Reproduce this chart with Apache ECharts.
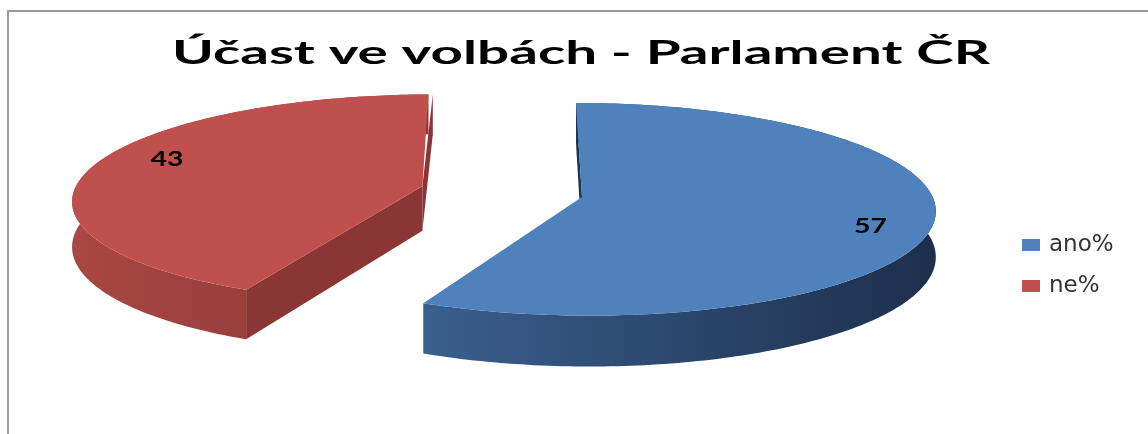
<!DOCTYPE html>
<html>
<head>
<meta charset="utf-8">
<script src="https://cdn.jsdelivr.net/npm/echarts@6/dist/echarts.min.js"></script>
<style>
  html, body { margin: 0; padding: 0; background: #fff; }
  #pieChart { width: 1148px; height: 434px; }
</style>
</head>
<body>
<div id="pieChart"></div>
<script>
// data
const categories = ["ano%", "ne%"];
const values = [57, 43];
const chartTitle = "Účast ve volbách - Parlament ČR";

// look
const topColors = ["#4F81BD", "#C0504D"];
const wallColors = [["#3A5F8D", "#1D2F4C"], ["#A84744", "#8A3634"]];
const cutColors = ["#1F3454", "#8B3634"];
const explode = [0, 0.47];

// fake 3d projection (excel style tilted pie)
const CX = 582, CY = 197, RX = 350.6, RY = 104.9, PERSP = 0.1156, DEPTH = 45, SKEW = -6.7;
const total = values.reduce((a, b) => a + b, 0);
const rad = (d) => (d * Math.PI) / 180;

function project(X, Y, down) {
  const f = 1 / (1 + PERSP * Y);
  return [CX + (RX * X + SKEW * Y) * f, CY - RY * Y * f + down * DEPTH * f];
}

function measure(text, font) {
  const ctx = document.createElement("canvas").getContext("2d");
  ctx.font = font;
  return ctx.measureText(text).width;
}

function sliceAngles(i) {
  let before = 0;
  for (let k = 0; k < i; k++) before += values[k];
  return [(before / total) * 360, ((before + values[i]) / total) * 360];
}

function renderSlice(i) {
  const [a0, a1] = sliceAngles(i);
  const mid = rad((a0 + a1) / 2);
  const ox = explode[i] * Math.sin(mid), oy = explode[i] * Math.cos(mid);
  const rim = (deg, down) => project(ox + Math.sin(rad(deg)), oy + Math.cos(rad(deg)), down);
  const children = [];

  // outer wall
  const topArc = [], botArc = [];
  for (let d = a0; d <= a1 + 0.001; d += 1) {
    const dd = Math.min(d, a1);
    topArc.push(rim(dd, 0));
    botArc.push(rim(dd, 1));
  }
  const xs = topArc.map((p) => p[0]);
  const minX = Math.min.apply(null, xs), maxX = Math.max.apply(null, xs);
  children.push({
    type: "polygon",
    shape: { points: topArc.concat(botArc.slice().reverse()) },
    style: {
      fill: new echarts.graphic.LinearGradient(minX, 0, maxX, 0, [
        { offset: 0, color: wallColors[i][0] },
        { offset: 1, color: wallColors[i][1] },
      ], true),
    },
  });

  // radial cut faces, only the ones turned to the viewer (or edge-on)
  const camY = -1 / PERSP;
  const faces = [
    { deg: a0, n: [-Math.cos(rad(a0)), Math.sin(rad(a0))] },
    { deg: a1, n: [Math.cos(rad(a1)), -Math.sin(rad(a1))] },
  ];
  faces.forEach((fc) => {
    const dot = fc.n[0] * (0 - ox) + fc.n[1] * (camY - oy);
    if (dot < -0.01) return;
    children.push({
      type: "polygon",
      shape: {
        points: [project(ox, oy, 0), rim(fc.deg, 0), rim(fc.deg, 1), project(ox, oy, 1)],
      },
      style: { fill: cutColors[i] },
    });
  });

  // top face
  children.push({
    type: "polygon",
    shape: { points: [project(ox, oy, 0)].concat(topArc) },
    style: { fill: topColors[i] },
  });

  // value label
  const lp = project(ox + 0.8 * Math.sin(mid), oy + 1.25 * Math.cos(mid), 0);
  const labelFont = "bold 21px Lato";
  const label = String(values[i]);
  children.push({
    type: "text",
    x: lp[0] + 4,
    y: lp[1],
    scaleX: 33 / measure("43", labelFont),
    style: { text: label, font: labelFont, fill: "#000", align: "center", verticalAlign: "middle" },
  });

  return { type: "group", children: children };
}

const titleFont = "bold 32px Lato";
const pieChart = echarts.init(document.getElementById("pieChart"));
const option = {
  backgroundColor: "#fff",
  animation: false,
  graphic: [
    {
      type: "rect",
      shape: { x: 8, y: 11, width: 1170, height: 450 },
      style: { fill: "none", stroke: "#9a9a9a", lineWidth: 2 },
      silent: true,
    },
    {
      type: "text",
      x: 581,
      y: 54,
      scaleX: 818 / measure(chartTitle, titleFont),
      style: { text: chartTitle, font: titleFont, fill: "#000", align: "center", verticalAlign: "middle" },
    },
  ],
  legend: {
    data: categories,
    orient: "vertical",
    left: 1017,
    top: 228,
    itemWidth: 18,
    itemHeight: 12,
    itemGap: 17,
    icon: "rect",
    textStyle: {
      color: "#333",
      fontSize: 23,
      lineHeight: 24,
      fontFamily: "DejaVu Sans",
      padding: [0, 0, 0, 4],
    },
  },
  series: categories.map((name, i) => ({
    name: name,
    type: "custom",
    coordinateSystem: "none",
    itemStyle: { color: topColors[i] },
    data: [values[i]],
    renderItem: function () {
      return renderSlice(i);
    },
  })),
};
pieChart.setOption(option);
window.addEventListener("resize", () => pieChart.resize(), true);
</script>
</body>
</html>
